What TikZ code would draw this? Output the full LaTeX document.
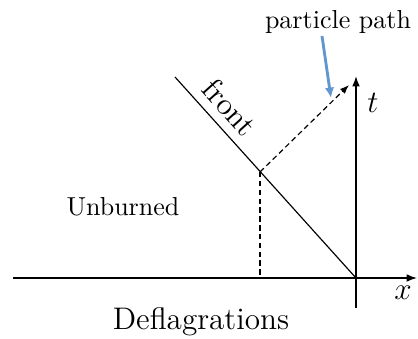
\documentclass[tikz,border=0pt]{standalone}
\usetikzlibrary{arrows.meta}
\definecolor{pathblue}{RGB}{98,150,208}
\begin{document}
\begin{tikzpicture}[x=0.3846pt,y=-0.3846pt,
  axis/.style={line width=0.6pt,-{Latex[length=4pt,width=3pt]}},
  dsh/.style={line width=0.45pt,dash pattern=on 2.1pt off 1.3pt},
  lbl/.style={inner sep=0pt}]
\useasboundingbox (0,0) rectangle (418,339);
\coordinate (O) at (356,278);
\coordinate (xl) at (13,278);
\coordinate (xr) at (417,278);
\coordinate (tb) at (356,308);
\coordinate (tt) at (356,76);
\coordinate (F) at (175,77);
\coordinate (P) at (260,172);
\coordinate (Pb) at (260,278);
\coordinate (Pe) at (349,85);
\draw[axis] (xl) -- (xr);
\draw[axis] (tb) -- (tt);
\draw[line width=0.45pt] (F) -- (O);
\draw[dsh] (P) -- (Pb);
\draw[dsh,-{Latex[length=3.5pt,width=2.6pt]}] (P) -- (Pe);
\node[lbl,font=\large] (front) at (230,107) [rotate=-48] {front};
\node[lbl] (unb) at (123,207) {Unburned};
\node[lbl,font=\large] (defl) at (201,322) {Deflagrations};
\node[lbl] (pp) at (338,22) {particle path};
\node[lbl,font=\fontsize{13}{15}\selectfont] (tl) at (373,103) {$t$};
\node[lbl,font=\fontsize{13}{15}\selectfont] (xlab) at (403,293) {$x$};
\draw[pathblue,line width=1.1pt,-{Latex[length=4pt,width=3.6pt]}] (322,36) -- (331,98);
\end{tikzpicture}
\end{document}
